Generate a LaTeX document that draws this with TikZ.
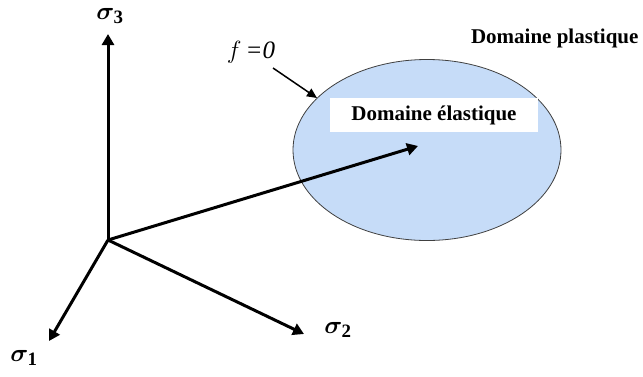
\documentclass[tikz,border=0pt]{standalone}
\usepackage{amsmath,bm}
\usepackage{fontspec}
\setmainfont{Liberation Serif}
\usetikzlibrary{arrows.meta,shapes.geometric}
\definecolor{elfill}{HTML}{C6DCF8}
\tikzset{
  axis/.style={line width=3pt,-{Triangle[length=11pt,width=12pt]}},
  lbl/.style={font=\fontsize{21}{24}\selectfont\bfseries},
  sig/.style={font=\fontsize{27}{30}\selectfont, inner sep=0pt},
}
\begin{document}
\begin{tikzpicture}[x=1pt,y=-1pt]
\useasboundingbox (0,0) rectangle (643,376);
\coordinate (O) at (108,240);
\coordinate (t3) at (108,34);
\coordinate (t1) at (49,341);
\coordinate (t2) at (304,334);
\coordinate (tv) at (418,146);
\node[ellipse, draw=black!75, line width=0.8pt, fill=elfill, minimum width=268pt, minimum height=181pt, inner sep=0pt] (ell) at (427,150) {};
\node[fill=white, minimum width=208pt, minimum height=34pt, inner sep=0pt, lbl] (el) at (434,115) {Domaine élastique};
\node[lbl, anchor=east] (pl) at (642,38) {Domaine plastique};
\draw[axis] (O) -- (t3);
\draw[axis] (O) -- (t1);
\draw[axis] (O) -- (t2);
\draw[axis] (O) -- (tv);
\node[sig] (s3) at (110,16) {$\bm{\sigma}_{\mathbf{3}}$};
\node[sig] (s1) at (24,358) {$\bm{\sigma}_{\mathbf{1}}$};
\node[sig] (s2) at (338,330) {$\bm{\sigma}_{\mathbf{2}}$};
\node[font=\fontsize{25}{28}\selectfont\itshape, inner sep=1pt] (f) at (251,52) {$f$\,=0};
\coordinate (fa) at (317,98);
\draw[line width=1.5pt,-{Triangle[length=10pt,width=9pt]}] (273,68) -- (fa);
\end{tikzpicture}
\end{document}
